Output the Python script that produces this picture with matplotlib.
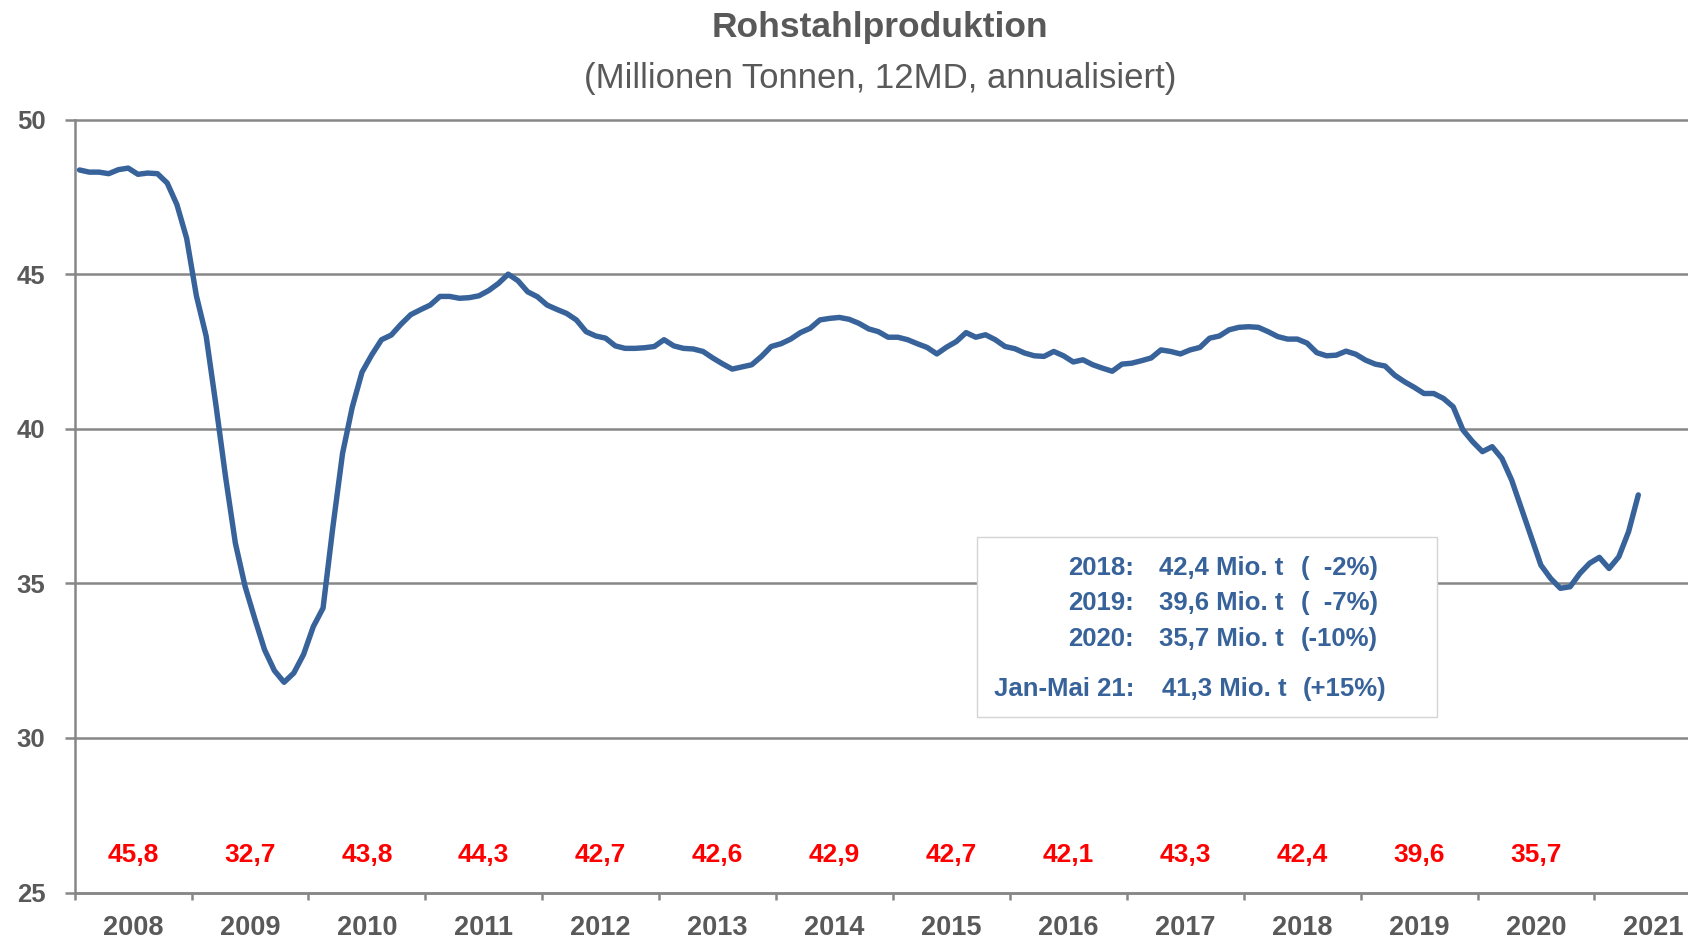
import matplotlib.pyplot as plt
from matplotlib.patches import Rectangle

plt.rcParams["font.family"] = ["Liberation Sans", "DejaVu Sans"]

# Rohstahlproduktion, 12-Monats-Summe (Mio. t), monatlich ab Jan 2008
years = list(range(2008, 2022))
prod_2008 = [48.37, 48.30, 48.30, 48.25, 48.38, 48.43, 48.23, 48.27, 48.25, 47.95, 47.25, 46.16]
prod_2009 = [44.30, 43.00, 40.78, 38.43, 36.30, 34.90, 33.85, 32.85, 32.18, 31.80, 32.10, 32.70]
prod_2010 = [33.60, 34.20, 36.80, 39.20, 40.70, 41.83, 42.39, 42.88, 43.03, 43.38, 43.69, 43.85]
prod_2011 = [44.00, 44.28, 44.28, 44.22, 44.24, 44.30, 44.47, 44.70, 45.00, 44.79, 44.43, 44.27]
prod_2012 = [44.00, 43.86, 43.73, 43.52, 43.14, 43.00, 42.93, 42.68, 42.60, 42.60, 42.62, 42.66]
prod_2013 = [42.88, 42.68, 42.60, 42.58, 42.50, 42.29, 42.10, 41.93, 42.00, 42.07, 42.34, 42.66]
prod_2014 = [42.75, 42.90, 43.11, 43.25, 43.52, 43.57, 43.60, 43.54, 43.41, 43.23, 43.14, 42.96]
prod_2015 = [42.96, 42.88, 42.75, 42.63, 42.42, 42.64, 42.82, 43.11, 42.96, 43.04, 42.88, 42.66]
prod_2016 = [42.59, 42.45, 42.36, 42.34, 42.50, 42.36, 42.16, 42.23, 42.07, 41.96, 41.86, 42.09]
prod_2017 = [42.12, 42.20, 42.29, 42.55, 42.50, 42.42, 42.55, 42.63, 42.93, 43.00, 43.20, 43.28]
prod_2018 = [43.30, 43.28, 43.14, 42.98, 42.90, 42.90, 42.77, 42.46, 42.36, 42.38, 42.51, 42.41]
prod_2019 = [42.22, 42.09, 42.03, 41.73, 41.52, 41.34, 41.14, 41.14, 40.98, 40.71, 39.96, 39.58]
prod_2020 = [39.26, 39.42, 39.04, 38.34, 37.42, 36.51, 35.59, 35.16, 34.84, 34.89, 35.32, 35.65]
prod_2021 = [35.84, 35.48, 35.86, 36.67, 37.86]

# Jahreswerte (rot)
annual_values = ["45,8", "32,7", "43,8", "44,3", "42,7", "42,6", "42,9",
                 "42,7", "42,1", "43,3", "42,4", "39,6", "35,7"]

# Infobox
box_labels = ["2018:", "2019:", "2020:", "Jan-Mai 21:"]
box_values = ["42,4 Mio. t", "39,6 Mio. t", "35,7 Mio. t", "41,3 Mio. t"]
box_changes = ["(  -2%)", "(  -7%)", "(-10%)", "(+15%)"]

series = [prod_2008, prod_2009, prod_2010, prod_2011, prod_2012, prod_2013, prod_2014,
          prod_2015, prod_2016, prod_2017, prod_2018, prod_2019, prod_2020, prod_2021]

x_vals = []
y_vals = []
for i, vals in enumerate(series):
    for m, v in enumerate(vals):
        x_vals.append(i + (m + 0.5) / 12)
        y_vals.append(v)

gray = "#595959"
grid_gray = "#878787"
blue = "#37629a"

fig = plt.figure(figsize=(16.88, 9.40), dpi=100)
ax = fig.add_axes([0.0442, 0.0505, 0.9558, 0.8223])

ax.plot(x_vals, y_vals, color=blue, linewidth=3.9, solid_capstyle="round",
        solid_joinstyle="round", zorder=4)

ax.set_xlim(0, 13.8)
ax.set_ylim(25, 50)

# Achsen
for s in ["top", "right"]:
    ax.spines[s].set_visible(False)
for s in ["left", "bottom"]:
    ax.spines[s].set_color(grid_gray)
    ax.spines[s].set_linewidth(1.8)

ax.set_yticks([25, 30, 35, 40, 45, 50])
ax.yaxis.grid(True, color=grid_gray, linewidth=1.8)
ax.set_axisbelow(True)
for gl in ax.get_ygridlines():
    gl.set_clip_on(False)
ax.tick_params(axis="y", direction="out", length=7, width=1.8, color=grid_gray,
               pad=14, labelsize=18.5, labelcolor=gray)

ax.set_xticks(range(14))
ax.set_xticklabels([])
ax.set_xticks([i + 0.5 for i in range(14)], minor=True)
ax.set_xticklabels([str(y) for y in years], minor=True)
ax.tick_params(axis="x", which="major", direction="out", length=5, width=1.8,
               color=grid_gray)
ax.tick_params(axis="x", which="minor", length=0, pad=16, labelsize=19.5,
               labelcolor=gray)
for lbl in ax.get_xticklabels(minor=True) + ax.get_yticklabels():
    lbl.set_fontweight("bold")

# Jahreswerte
for i, val in enumerate(annual_values):
    ax.text(i + 0.5, 26.22, val, color="#ff0000", fontsize=19, fontweight="bold",
            ha="center", va="center")

# Infobox
ax.add_patch(Rectangle((0.5591, 0.2276), 0.8444 - 0.5591, 0.46 - 0.2276,
                       transform=ax.transAxes, facecolor="white",
                       edgecolor="#d4d4d4", linewidth=1.0, zorder=3))
rows_y = [0.4108, 0.3656, 0.3188, 0.254]
for k in range(4):
    extra = 0.0017 if k == 3 else 0.0
    ax.text(0.6566, rows_y[k], box_labels[k], transform=ax.transAxes, ha="right",
            va="baseline", fontsize=18.5, fontweight="bold", color=blue, zorder=5)
    ax.text(0.6721 + extra, rows_y[k], box_values[k], transform=ax.transAxes,
            ha="left", va="baseline", fontsize=18.5, fontweight="bold", color=blue,
            zorder=5)
    ax.text(0.8080 + 3 * extra, rows_y[k], box_changes[k], transform=ax.transAxes,
            ha="right", va="baseline", fontsize=18.5, fontweight="bold", color=blue,
            zorder=5)

# Titel
fig.text(0.5213, 0.961, "Rohstahlproduktion", ha="center", va="baseline",
         fontsize=25.5, fontweight="bold", color=gray)
fig.text(0.5213, 0.906, "(Millionen Tonnen, 12MD, annualisiert)", ha="center",
         va="baseline", fontsize=25, color=gray)

fig.savefig("out.png", dpi=100)
plt.close(fig)
